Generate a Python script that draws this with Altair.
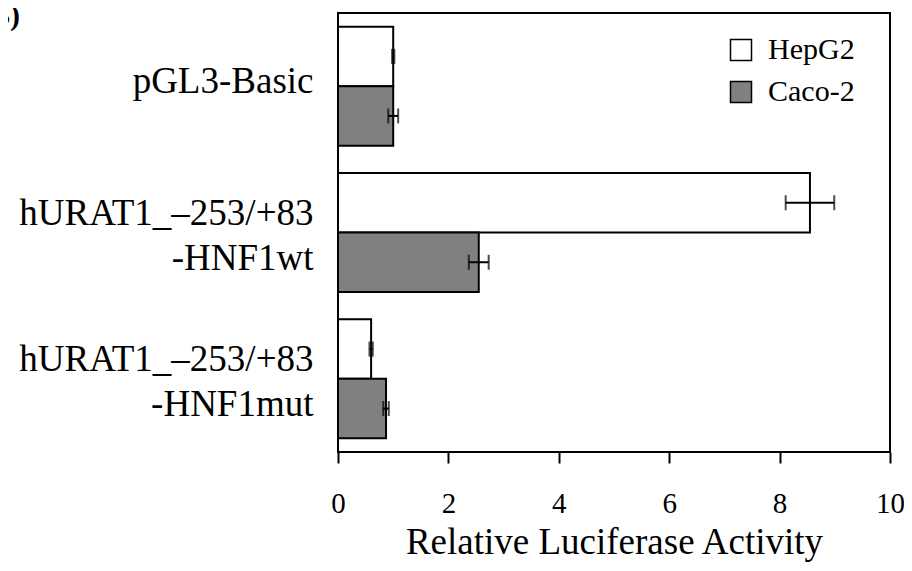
import altair as alt
import pandas as pd

# ---- data ----
categories = ["pGL3-Basic", "hURAT1_–253/+83|-HNF1wt", "hURAT1_–253/+83|-HNF1mut"]
cells = ["HepG2", "Caco-2"]
hepg2_values = [1.0, 8.55, 0.60]
hepg2_errors = [0.02, 0.44, 0.03]
caco2_values = [1.0, 2.55, 0.87]
caco2_errors = [0.09, 0.18, 0.05]
x_ticks = [0, 2, 4, 6, 8, 10]
panel_label = ["B)"]

rows = []
for i, c in enumerate(categories):
    rows.append(dict(construct=c, cell="HepG2", value=hepg2_values[i], err=hepg2_errors[i]))
    rows.append(dict(construct=c, cell="Caco-2", value=caco2_values[i], err=caco2_errors[i]))
df = pd.DataFrame(rows)
df["lo"] = df["value"] - df["err"]
df["hi"] = df["value"] + df["err"]

FONT = "Liberation Serif"

x_axis = alt.Axis(values=x_ticks, title="Relative Luciferase Activity", domain=False,
                  grid=False, ticks=True, tickSize=11, tickWidth=2, tickColor="black",
                  labelFont=FONT, labelFontSize=29, labelColor="black", labelPadding=26,
                  labelFlush=False, labelOverlap=False,
                  titleFont=FONT, titleFontSize=37, titleFontWeight="normal",
                  titleColor="black", titlePadding=6)
x_scale = alt.Scale(domain=[0, 10], nice=False, zero=True)

y_enc = alt.Y("construct:N", sort=categories,
              scale=alt.Scale(paddingInner=0.187, paddingOuter=0.0935),
              axis=alt.Axis(title=None, labelExpr="split(datum.label, '|')",
                            labelFont=FONT, labelFontSize=37, labelLineHeight=45,
                            labelOffset={"expr": "indexof(datum.value, '|') >= 0 ? -19 : -4"},
                            labelColor="black", ticks=False, domain=False, grid=False,
                            labelPadding=25, labelLimit=0))
yoff = alt.YOffset("cell:N", sort=cells, scale=alt.Scale(paddingInner=0, paddingOuter=0))

base = alt.Chart(df)

bars = base.mark_bar(stroke="black", strokeWidth=2).encode(
    x=alt.X("value:Q", scale=x_scale, axis=x_axis),
    y=y_enc,
    yOffset=yoff,
    fill=alt.Fill("cell:N", sort=cells,
                  scale=alt.Scale(domain=cells, range=["white", "#808080"]),
                  legend=alt.Legend(title=None, orient="none", legendX=388, legendY=22,
                                    symbolType="square", symbolSize=441,
                                    symbolStrokeColor="black", symbolStrokeWidth=1.5,
                                    labelFont=FONT, labelFontSize=30, labelColor="black",
                                    rowPadding=12, labelOffset=12, padding=0)),
)

err = base.mark_rule(color="black", strokeWidth=2).encode(
    x=alt.X("lo:Q", scale=x_scale, axis=x_axis),
    x2="hi:Q",
    y=y_enc,
    yOffset=yoff,
)

cap_lo = base.mark_tick(color="black", thickness=2, size=15, orient="vertical").encode(
    x=alt.X("lo:Q", scale=x_scale, axis=x_axis),
    y=y_enc,
    yOffset=yoff,
)
cap_hi = base.mark_tick(color="black", thickness=2, size=15, orient="vertical").encode(
    x=alt.X("hi:Q", scale=x_scale, axis=x_axis),
    y=y_enc,
    yOffset=yoff,
)

label = alt.Chart(pd.DataFrame({"t": panel_label})).mark_text(
    font=FONT, fontSize=30, fontWeight="bold", align="right", baseline="alphabetic", color="black"
).encode(text="t:N", x=alt.value(-318), y=alt.value(12))

chart = alt.layer(bars, err, cap_lo, cap_hi, label).properties(
    width=552, height=439,
    autosize=alt.AutoSizeParams(type="none"),
    padding={"left": 330, "top": 5, "right": 14, "bottom": 111},
).configure(background="white", font=FONT).configure_view(stroke="black", strokeWidth=2)

chart.save("out.html", embed_options={"renderer": "svg", "actions": False})
